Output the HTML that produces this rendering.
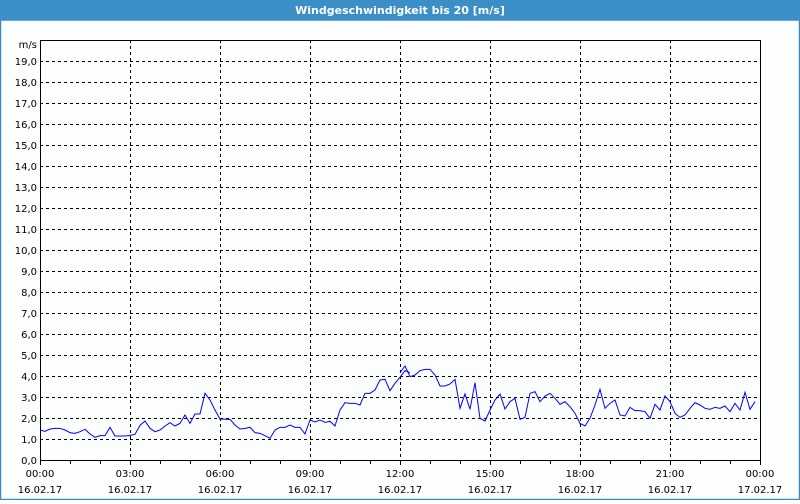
<!DOCTYPE html>
<html><head><meta charset="utf-8"><style>
body{margin:0;width:800px;height:500px;overflow:hidden;background:#fff;font-family:"DejaVu Sans","Liberation Sans",sans-serif}
</style></head><body>
<svg width="800" height="500" xmlns="http://www.w3.org/2000/svg" font-family="DejaVu Sans, Liberation Sans, sans-serif" font-size="10">
<rect x="0" y="0" width="800" height="500" fill="#fcfefe"/>
<rect x="0" y="0" width="800" height="20" fill="#3c8fc6"/>
<text x="400" y="14" fill="#fff" font-weight="bold" text-anchor="middle" font-size="11">Windgeschwindigkeit bis 20 [m/s]</text>
<rect x="0.5" y="20" width="799" height="479.5" fill="none" stroke="#3c8fc6" stroke-width="1.5"/>
<g stroke="#000" stroke-dasharray="3,3" stroke-width="1">
<line x1="40" y1="61.5" x2="760" y2="61.5"/><line x1="40" y1="82.5" x2="760" y2="82.5"/><line x1="40" y1="103.5" x2="760" y2="103.5"/><line x1="40" y1="124.5" x2="760" y2="124.5"/><line x1="40" y1="145.5" x2="760" y2="145.5"/><line x1="40" y1="166.5" x2="760" y2="166.5"/><line x1="40" y1="187.5" x2="760" y2="187.5"/><line x1="40" y1="208.5" x2="760" y2="208.5"/><line x1="40" y1="229.5" x2="760" y2="229.5"/><line x1="40" y1="250.5" x2="760" y2="250.5"/><line x1="40" y1="271.5" x2="760" y2="271.5"/><line x1="40" y1="292.5" x2="760" y2="292.5"/><line x1="40" y1="313.5" x2="760" y2="313.5"/><line x1="40" y1="334.5" x2="760" y2="334.5"/><line x1="40" y1="355.5" x2="760" y2="355.5"/><line x1="40" y1="376.5" x2="760" y2="376.5"/><line x1="40" y1="397.5" x2="760" y2="397.5"/><line x1="40" y1="418.5" x2="760" y2="418.5"/><line x1="40" y1="439.5" x2="760" y2="439.5"/>
<line x1="130.5" y1="40" x2="130.5" y2="460"/><line x1="220.5" y1="40" x2="220.5" y2="460"/><line x1="310.5" y1="40" x2="310.5" y2="460"/><line x1="400.5" y1="40" x2="400.5" y2="460"/><line x1="490.5" y1="40" x2="490.5" y2="460"/><line x1="580.5" y1="40" x2="580.5" y2="460"/><line x1="670.5" y1="40" x2="670.5" y2="460"/>
</g>
<rect x="40.5" y="40.5" width="720" height="420" fill="none" stroke="#000"/>
<g stroke="#000">
<line x1="40.5" y1="460" x2="40.5" y2="465"/><line x1="70.5" y1="460" x2="70.5" y2="464"/><line x1="100.5" y1="460" x2="100.5" y2="464"/><line x1="130.5" y1="460" x2="130.5" y2="465"/><line x1="160.5" y1="460" x2="160.5" y2="464"/><line x1="190.5" y1="460" x2="190.5" y2="464"/><line x1="220.5" y1="460" x2="220.5" y2="465"/><line x1="250.5" y1="460" x2="250.5" y2="464"/><line x1="280.5" y1="460" x2="280.5" y2="464"/><line x1="310.5" y1="460" x2="310.5" y2="465"/><line x1="340.5" y1="460" x2="340.5" y2="464"/><line x1="370.5" y1="460" x2="370.5" y2="464"/><line x1="400.5" y1="460" x2="400.5" y2="465"/><line x1="430.5" y1="460" x2="430.5" y2="464"/><line x1="460.5" y1="460" x2="460.5" y2="464"/><line x1="490.5" y1="460" x2="490.5" y2="465"/><line x1="520.5" y1="460" x2="520.5" y2="464"/><line x1="550.5" y1="460" x2="550.5" y2="464"/><line x1="580.5" y1="460" x2="580.5" y2="465"/><line x1="610.5" y1="460" x2="610.5" y2="464"/><line x1="640.5" y1="460" x2="640.5" y2="464"/><line x1="670.5" y1="460" x2="670.5" y2="465"/><line x1="700.5" y1="460" x2="700.5" y2="464"/><line x1="730.5" y1="460" x2="730.5" y2="464"/><line x1="760.5" y1="460" x2="760.5" y2="465"/>
</g>
<g text-anchor="end" fill="#000">
<text x="37" y="48">m/s</text>
<text x="37" y="65">19,0</text><text x="37" y="86">18,0</text><text x="37" y="107">17,0</text><text x="37" y="128">16,0</text><text x="37" y="149">15,0</text><text x="37" y="170">14,0</text><text x="37" y="191">13,0</text><text x="37" y="212">12,0</text><text x="37" y="233">11,0</text><text x="37" y="254">10,0</text><text x="37" y="275">9,0</text><text x="37" y="296">8,0</text><text x="37" y="317">7,0</text><text x="37" y="338">6,0</text><text x="37" y="359">5,0</text><text x="37" y="380">4,0</text><text x="37" y="401">3,0</text><text x="37" y="422">2,0</text><text x="37" y="443">1,0</text><text x="37" y="464">0,0</text>
</g>
<g text-anchor="middle" fill="#000">
<text x="40" y="477">00:00</text><text x="40" y="493">16.02.17</text>
<text x="130" y="477">03:00</text><text x="130" y="493">16.02.17</text>
<text x="220" y="477">06:00</text><text x="220" y="493">16.02.17</text>
<text x="310" y="477">09:00</text><text x="310" y="493">16.02.17</text>
<text x="400" y="477">12:00</text><text x="400" y="493">16.02.17</text>
<text x="490" y="477">15:00</text><text x="490" y="493">16.02.17</text>
<text x="580" y="477">18:00</text><text x="580" y="493">16.02.17</text>
<text x="670" y="477">21:00</text><text x="670" y="493">16.02.17</text>
<text x="760" y="477">00:00</text><text x="760" y="493">17.02.17</text>
</g>
<g fill="none" stroke="#0000ff" stroke-width="1">
<polyline transform="translate(30,360) scale(0.33333)" vector-effect="non-scaling-stroke" points="30,210 45,214 60,207 75,205 90,205 105,210 120,218 135,220 150,215 165,208 180,222 195,232 210,227 225,227 240,202 255,228 270,228 285,228 300,226 315,223 330,196 345,183 360,205 375,215 390,210 405,198 420,188 435,198 450,190 465,165 480,190 495,162 510,162 525,100 540,120 555,150 570,177 600,178 615,195 630,207 645,205 660,202 675,218 690,220 705,227 720,235 735,210 750,202 765,202 780,195 795,202 810,202 825,222 840,180 855,186 870,180 885,187 900,184 915,198 930,150 945,128 960,130 975,130 990,135 1005,100 1020,100 1035,90 1050,60 1065,58 1080,92 1095,70 1110,52 1125,32 1140,38" style="vector-effect:non-scaling-stroke"/>
<polyline transform="translate(400,360) scale(0.33333)" points="0,38 15,18 30,50 45,45 60,32 75,28 90,28 105,45 120,78 135,78 150,72 165,58 180,145 195,102 210,148 225,68 240,175 255,183 270,150 285,120 300,102 315,147 330,125 345,115 360,178 375,172 390,100 405,95 420,125 435,108 450,100 465,115 480,133 495,125 510,140 525,160 540,190 555,198 570,175 585,135 600,88 615,145 630,130 645,120 660,165 675,168 690,142 705,152 720,152 735,155 750,175 765,133 780,150 795,108 810,125 825,160 840,172 855,165 870,145 885,128 900,135 915,145 930,148 945,142 960,145 975,138 990,155 1005,130 1020,150 1035,97 1050,148 1065,125" style="vector-effect:non-scaling-stroke"/>
</g>
</svg>
</body></html>
